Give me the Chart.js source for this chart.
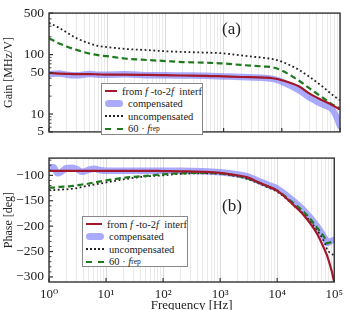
<!DOCTYPE html>
<html>
<head>
<meta charset="utf-8">
<script src="https://cdn.jsdelivr.net/npm/chart.js@4.4.0/dist/chart.umd.min.js"></script>
<style>
  html, body { margin: 0; padding: 0; background: #fff; overflow: hidden; }
  #wrap { position: relative; width: 348px; height: 310px; font-family: "Liberation Serif", serif; color: #222; }
  canvas { position: absolute; left: 0; }
  #gainChart { top: 0; }
  #phaseChart { top: 145px; }
  .panel { position: absolute; font-size: 17px; }
  .legend { position: absolute; background: #fff; border: 1px solid #888; font-size: 10.5px; box-sizing: border-box; padding-top: 1px; }
  .legend .row { height: 12.5px; display: flex; align-items: center; white-space: nowrap; }
  .legend .sample { width: 18px; margin: 0 5px 0 3px; box-sizing: border-box; }
  .s-ref { border-top: 2.5px solid #a3182a; }
  .s-comp { height: 7px; border-radius: 4px; background: rgba(125,125,255,0.65); }
  .s-unc { border-top: 2.5px dotted #222; }
  .s-rep { border-top: 2.5px dashed #1f7a1f; }
</style>
</head>
<body>
<div id="wrap">
  <canvas id="gainChart" width="348" height="145"></canvas>
  <canvas id="phaseChart" width="348" height="175"></canvas>
  <div class="panel" style="left:222px; top:19px;">(a)</div>
  <div class="panel" style="left:222px; top:196px;">(b)</div>
  <div class="legend" style="left:101px; top:83px; width:102px; height:52px;">
    <div class="row"><div class="sample s-ref"></div>from <i>&nbsp;f</i>&nbsp;-to-2<i>f</i>&nbsp; interf</div>
    <div class="row"><div class="sample s-comp"></div>compensated</div>
    <div class="row"><div class="sample s-unc"></div>uncompensated</div>
    <div class="row"><div class="sample s-rep"></div>60 · <i>&nbsp;f</i><sub style="font-size:7.5px">rep</sub></div>
  </div>
  <div class="legend" style="left:82px; top:216px; width:106px; height:51px;">
    <div class="row"><div class="sample s-ref"></div>from <i>&nbsp;f</i>&nbsp;-to-2<i>f</i>&nbsp; interf</div>
    <div class="row"><div class="sample s-comp"></div>compensated</div>
    <div class="row"><div class="sample s-unc"></div>uncompensated</div>
    <div class="row"><div class="sample s-rep"></div>60 · <i>&nbsp;f</i><sub style="font-size:7.5px">rep</sub></div>
  </div>
</div>
<script>
// frequencies [Hz]
const gainFreq = [1, 1.5, 2, 3, 5, 7, 10, 20, 50, 100, 200, 500, 1000, 2000, 5000, 7000, 10000, 20000, 30000, 50000, 70000, 85000, 100000];
// gain [MHz/V]
const gainRef    = [49, 48, 47.5, 47, 47, 46.5, 46, 46, 45.5, 45, 44.5, 44, 43, 42, 41, 40, 37, 29, 22, 17, 14.5, 13, 12];
const gainComp   = [47, 48, 46, 45, 47, 46, 46, 46.5, 45, 45, 44.5, 44, 43, 42, 40.5, 39, 35, 25, 19, 14.5, 12.5, 9.5, 6.3];
const gainUncomp = [343, 282, 237, 188, 154, 140, 134, 125, 119, 114, 111, 108, 105, 97, 88, 84, 76, 55, 42, 29, 22, 19, 17];
const gainFrep   = [188, 154, 137, 120, 104, 98, 94, 86, 81, 78, 75, 73, 71, 67, 63, 61, 54, 36, 27, 19, 15, 13.5, 12.5];

const phaseFreq = [1, 1.2, 1.4, 1.6, 2, 2.5, 3, 3.8, 5, 6.2, 8, 10, 20, 30, 50, 100, 200, 500, 1000, 2000, 3000, 5000, 7000, 10000, 20000, 30000, 50000, 70000, 75000, 90000, 100000];
// phase [deg]
const phaseRef    = [-91, -91, -91, -91, -91, -91, -91, -91, -91, -91, -91, -91, -91, -91, -91, -91.5, -92, -93, -95, -100, -104, -115, -122, -130, -160, -180, -215, -250, -258, -288, -310];
const phaseComp   = [-84, -84, -96, -94, -86, -85, -87, -93, -89, -87, -90, -91, -91, -91, -91, -91, -91, -92, -94, -98, -102, -112, -119, -126, -152, -170, -200, -226, -233, -229, -227];
const phaseUncomp = [-129, -129, -128.5, -128, -127.5, -126.5, -125.5, -123, -120, -118, -116, -114, -108, -105, -102, -100, -97, -96, -97, -102, -107, -117, -124, -132, -160, -178, -208, -236, -246, -254, -258];
const phaseFrep   = [-124, -124, -123, -122.5, -122, -121, -120, -118, -116, -114, -112, -110, -105, -103, -101, -98, -96, -95, -96, -101, -106, -115, -122, -130, -156, -173, -203, -226, -234, -231, -230];

const gainTicks = [5, 10, 50, 100, 500];
const phaseTicks = [-300, -250, -200, -150, -100];
const gainMinor = [6, 7, 8, 9, 20, 30, 40, 60, 70, 80, 90, 200, 300, 400];
const phaseMinor = [-290, -280, -270, -260, -240, -230, -220, -210, -190, -180, -170, -160, -140, -130, -120, -110, -90, -80, -70];
const decades = [1, 10, 100, 1000, 10000, 100000];
const supers = ['⁰', '¹', '²', '³', '⁴', '⁵'];

const serif = '"Liberation Serif", "DejaVu Serif", serif';

// all log grid positions 1..9 x 10^n
const gridVals = [];
for (let d = 0; d < 5; d++) {
  for (let m = 1; m < 10; m++) gridVals.push(m * Math.pow(10, d));
}
gridVals.push(100000);

const isDecade = v => decades.some(d => Math.abs(v - d) < d * 1e-6);

function pts(xs, ys) {
  return xs.map((x, i) => ({x: x, y: ys[i]}));
}

function makeSets(xs, ref, comp, unc, rep) {
  return [
    {label: 'from f-to-2f interf', data: pts(xs, ref), borderColor: '#a3182a', borderWidth: 2.2, order: 0},
    {label: '60 · frep', data: pts(xs, rep), borderColor: '#1f7a1f', borderWidth: 2.2, borderDash: [6, 3.5], order: 1},
    {label: 'uncompensated', data: pts(xs, unc), borderColor: '#222', borderWidth: 1.8, borderDash: [1.8, 2.6], order: 2},
    {label: 'compensated', data: pts(xs, comp), borderColor: 'rgba(125,125,255,0.65)', borderWidth: 6.5, borderCapStyle: 'round', order: 3},
  ].map(ds => Object.assign(ds, {pointRadius: 0, fill: false, cubicInterpolationMode: 'monotone'}));
}

// frame round the plot area, inward tick marks on the axes
const framePlugin = {
  id: 'frame',
  afterDatasetsDraw(chart) {
    const {ctx, chartArea: a, scales} = chart;
    const marks = chart.options.plugins.frame;
    ctx.save();
    ctx.strokeStyle = '#333';
    ctx.lineWidth = 1.4;
    ctx.strokeRect(a.left, a.top, a.right - a.left, a.bottom - a.top);
    ctx.lineWidth = 1.2;
    decades.forEach(v => {
      const x = scales.x.getPixelForValue(v);
      ctx.beginPath(); ctx.moveTo(x, a.bottom); ctx.lineTo(x, a.bottom - 4); ctx.stroke();
    });
    marks.yMarks.forEach(v => {
      const y = scales.y.getPixelForValue(v);
      ctx.beginPath(); ctx.moveTo(a.left, y); ctx.lineTo(a.left + 4, y); ctx.stroke();
    });
    ctx.lineWidth = 0.9;
    marks.yMinor.forEach(v => {
      const y = scales.y.getPixelForValue(v);
      if (y < a.top || y > a.bottom) return;
      ctx.beginPath(); ctx.moveTo(a.left, y); ctx.lineTo(a.left + 2.5, y); ctx.stroke();
    });
    ctx.restore();
  }
};

function xScale(showLabels, height) {
  return {
    type: 'logarithmic',
    min: 1,
    max: 100000,
    afterBuildTicks: s => { s.ticks = gridVals.map(v => ({value: v})); },
    afterFit: s => { s.height = height; },
    border: {display: false},
    grid: {
      drawTicks: false,
      color: c => (c.tick && isDecade(c.tick.value)) ? '#cfcfcf' : '#e4e4e4',
      lineWidth: 0.8
    },
    ticks: {
      display: showLabels,
      autoSkip: false,
      maxRotation: 0,
      padding: 5,
      color: '#222',
      font: {family: serif, size: 13},
      callback: v => isDecade(v) ? '10' + supers[Math.round(Math.log10(v))] : ''
    },
    title: {
      display: showLabels,
      text: 'Frequency [Hz]',
      color: '#222',
      font: {family: serif, size: 13},
      padding: {top: 0, bottom: 7}
    }
  };
}

function yScale(opts, titleText, tickVals, fmt) {
  return Object.assign({
    afterBuildTicks: s => { s.ticks = tickVals.map(v => ({value: v})); },
    afterFit: s => { s.width = 49; },
    border: {display: false},
    grid: {display: false, drawTicks: false},
    ticks: {
      autoSkip: false,
      padding: 5,
      color: '#222',
      font: {family: serif, size: 13.5},
      callback: fmt
    },
    title: {
      display: true,
      text: titleText,
      color: '#222',
      font: {family: serif, size: 12},
      padding: {top: 2, bottom: 0}
    }
  }, opts);
}

new Chart(document.getElementById('gainChart'), {
  type: 'line',
  data: {datasets: makeSets(gainFreq, gainRef, gainComp, gainUncomp, gainFrep)},
  options: {
    responsive: false,
    animation: false,
    layout: {padding: {top: 7, right: 8, left: 0, bottom: 0}},
    plugins: {legend: {display: false}, tooltip: {enabled: false}, frame: {yMarks: gainTicks, yMinor: gainMinor}},
    scales: {
      x: xScale(false, 6),
      y: yScale({type: 'logarithmic', min: 5, max: 500}, 'Gain [MHz/V]', gainTicks, v => String(v))
    }
  },
  plugins: [framePlugin]
});

new Chart(document.getElementById('phaseChart'), {
  type: 'line',
  data: {datasets: makeSets(phaseFreq, phaseRef, phaseComp, phaseUncomp, phaseFrep)},
  options: {
    responsive: false,
    animation: false,
    layout: {padding: {top: 3, right: 8, left: 0, bottom: 0}},
    plugins: {legend: {display: false}, tooltip: {enabled: false}, frame: {yMarks: phaseTicks, yMinor: phaseMinor}},
    scales: {
      x: xScale(true, 38),
      y: yScale({type: 'linear', min: -310, max: -66}, 'Phase [deg]', phaseTicks, v => String(v).replace('-', '−'))
    }
  },
  plugins: [framePlugin]
});
</script>
</body>
</html>
